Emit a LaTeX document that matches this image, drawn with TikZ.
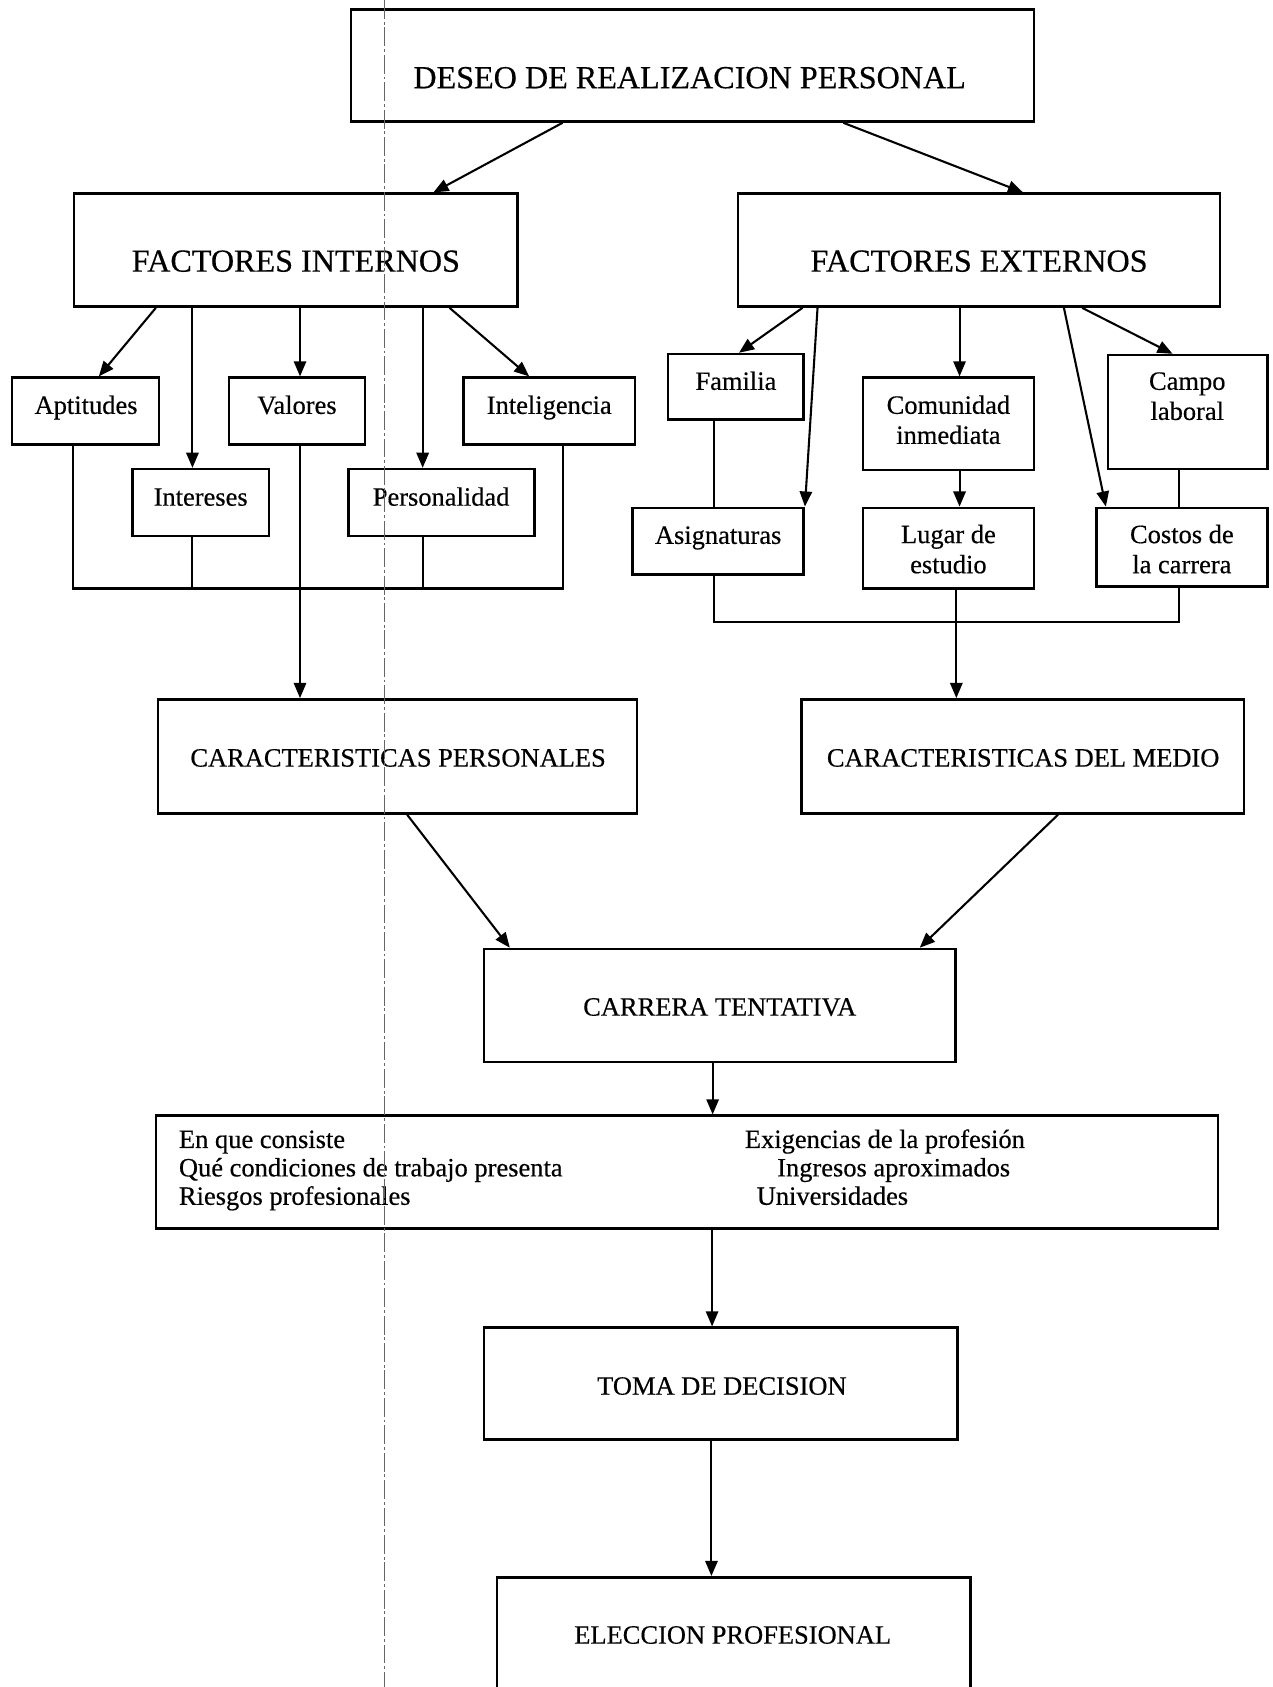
\documentclass[tikz,border=0pt]{standalone}
\usepackage{fontspec}
\setmainfont[FakeBold=0.4]{Liberation Serif}
\usetikzlibrary{arrows.meta,fit}
\begin{document}
\begin{tikzpicture}[x=0.02cm,y=-0.02cm,
  boxst/.style={draw,line width=1.3pt,inner sep=0pt},
  big/.style={inner sep=0pt,font=\fontsize{17}{20}\selectfont,anchor=base},
  lbl/.style={inner sep=0pt,font=\fontsize{14}{15.93}\selectfont,anchor=base,align=center},
  infotxt/.style={inner sep=0pt,font=\fontsize{14}{15}\selectfont,anchor=base west},
  conn/.style={line width=1.1pt},
  arr/.style={conn,-{Triangle[length=8pt,width=6.5pt]}},
  dx/.style={xshift=#1*0.02cm},
  scanline/.style={line width=0.6pt,black!60,dash pattern=on 10pt off 1.5pt on 1.5pt off 1.5pt}]
\useasboundingbox (0,0) rectangle (1183,1568);
\clip (0,0) rectangle (1183,1568);
\fill[white] (0,0) rectangle (1183,1568);

% boxes
\node[boxst,fit={(326,9) (961,113)}] (deseo) {};
\node[boxst,fit={(69,180) (481,285)}] (fi) {};
\node[boxst,fit={(686,180) (1134,285)}] (fe) {};
\node[boxst,fit={(11,351) (148,413)}] (apt) {};
\node[boxst,fit={(213,351) (339,413)}] (val) {};
\node[boxst,fit={(431,351) (590,413)}] (intel) {};
\node[boxst,fit={(123,436) (250,498)}] (inter) {};
\node[boxst,fit={(324,436) (497,498)}] (pers) {};
\node[boxst,fit={(621,329) (747,390)}] (fam) {};
\node[boxst,fit={(802,351) (961,437)}] (com) {};
\node[boxst,fit={(1030,330) (1178,436)}] (campo) {};
\node[boxst,fit={(588,472) (747,534)}] (asig) {};
\node[boxst,fit={(802,472) (961,547)}] (lug) {};
\node[boxst,fit={(1019,472) (1178,545)}] (cost) {};
\node[boxst,fit={(147,650) (592,756)}] (cp) {};
\node[boxst,fit={(745,650) (1156,756)}] (cm) {};
\node[boxst,fit={(450,882) (888,987)}] (car) {};
\node[boxst,fit={(145,1037) (1132,1142)}] (info) {};
\node[boxst,fit={(450,1234) (890,1338)}] (toma) {};
\node[boxst,fit={(462,1466) (902,1580)}] (elec) {};

% texts
\node[big] (deseo-t) at (641,82) {DESEO DE REALIZACION PERSONAL};
\node[big] (fi-t) at (275,252.5) {FACTORES INTERNOS};
\node[big] (fe-t) at (910,252.5) {FACTORES EXTERNOS};
\node[lbl] (apt-t) at (80,384.7) {Aptitudes};
\node[lbl] (val-t) at (276,384.7) {Valores};
\node[lbl] (intel-t) at (510.5,384.7) {Inteligencia};
\node[lbl] (inter-t) at (186.5,470) {Intereses};
\node[lbl] (pers-t) at (410,470) {Personalidad};
\node[lbl] (fam-t) at (684,362.4) {Familia};
\node[lbl] (com-t) at (881.5,412.6) {Comunidad\\inmediata};
\node[lbl] (campo-t) at (1103.5,390.3) {Campo\\laboral};
\node[lbl] (asig-t) at (667.5,505.5) {Asignaturas};
\node[lbl] (lug-t) at (881.5,532.8) {Lugar de\\estudio};
\node[lbl] (cost-t) at (1098.5,532.8) {Costos de\\la carrera};
\node[lbl] (cp-t) at (370,712.5) {CARACTERISTICAS PERSONALES};
\node[lbl] (cm-t) at (951,712.5) {CARACTERISTICAS DEL MEDIO};
\node[lbl] (car-t) at (669,944) {CARRERA TENTATIVA};
\node[lbl] (toma-t) at (671,1296.3) {TOMA DE DECISION};
\node[lbl] (elec-t) at (681,1527.7) {ELECCION PROFESIONAL};
\node[infotxt] (i1) at (166,1067) {En que consiste};
\node[infotxt] (i2) at (166,1093.4) {Qué condiciones de trabajo presenta};
\node[infotxt] (i3) at (166,1119.8) {Riesgos profesionales};
\node[infotxt] (i4) at (692,1067) {Exigencias de la profesión};
\node[infotxt] (i5) at (722,1093.4) {Ingresos aproximados};
\node[infotxt] (i6) at (703,1119.8) {Universidades};

% join points
\coordinate (ci) at (280,547);
\coordinate (ce) at (890,578);

% connectors
\draw[arr] ([dx=198]deseo.south west) -- ([dx=335]fi.north west);
\draw[arr] ([dx=459]deseo.south west) -- ([dx=266]fe.north west);

\draw[arr] ([dx=77]fi.south west) -- ([dx=82]apt.north west);
\draw[arr] ([dx=111]fi.south west) -- ([dx=57]inter.north west);
\draw[arr] ([dx=211]fi.south west) -- ([dx=67]val.north west);
\draw[arr] ([dx=325]fi.south west) -- ([dx=70]pers.north west);
\draw[arr] ([dx=350]fi.south west) -- ([dx=62]intel.north west);

\draw[conn] ([dx=58]apt.south west) |- (ci) -| ([dx=93]intel.south west);
\draw[conn] ([dx=57]inter.south west) |- (ci);
\draw[conn] ([dx=70]pers.south west) |- (ci);
\draw[arr] ([dx=67]val.south west) -- ([dx=133]cp.north west);

\draw[arr] ([dx=61]fe.south west) -- ([dx=67]fam.north west);
\draw[arr] ([dx=75]fe.south west) -- (asig.north east);
\draw[arr] ([dx=207]fe.south west) -- ([dx=91]com.north west);
\draw[arr] ([dx=304]fe.south west) -- ([dx=10]cost.north west);
\draw[arr] ([dx=321]fe.south west) -- ([dx=61]campo.north west);

\draw[conn] ([dx=44]fam.south west) -- ([dx=77]asig.north west);
\draw[arr] ([dx=91]com.south west) -- ([dx=91]lug.north west);
\draw[conn] ([dx=67]campo.south west) -- ([dx=78]cost.north west);

\draw[conn] ([dx=77]asig.south west) |- (ce) -| ([dx=78]cost.south west);
\draw[arr] ([dx=88]lug.south west) -- ([dx=145]cm.north west);

\draw[arr] ([dx=232.5]cp.south west) -- ([dx=25]car.north west);
\draw[arr] ([dx=239.6]cm.south west) -- ([dx=406]car.north west);
\draw[arr] ([dx=213.5]car.south west) -- ([dx=518.5]info.north west);
\draw[arr] ([dx=518]info.south west) -- ([dx=213]toma.north west);
\draw[arr] ([dx=212.4]toma.south west) -- ([dx=200.4]elec.north west);

% scan artefact line
\draw[scanline] (357,0) -- (357,1568);
\end{tikzpicture}
\end{document}
